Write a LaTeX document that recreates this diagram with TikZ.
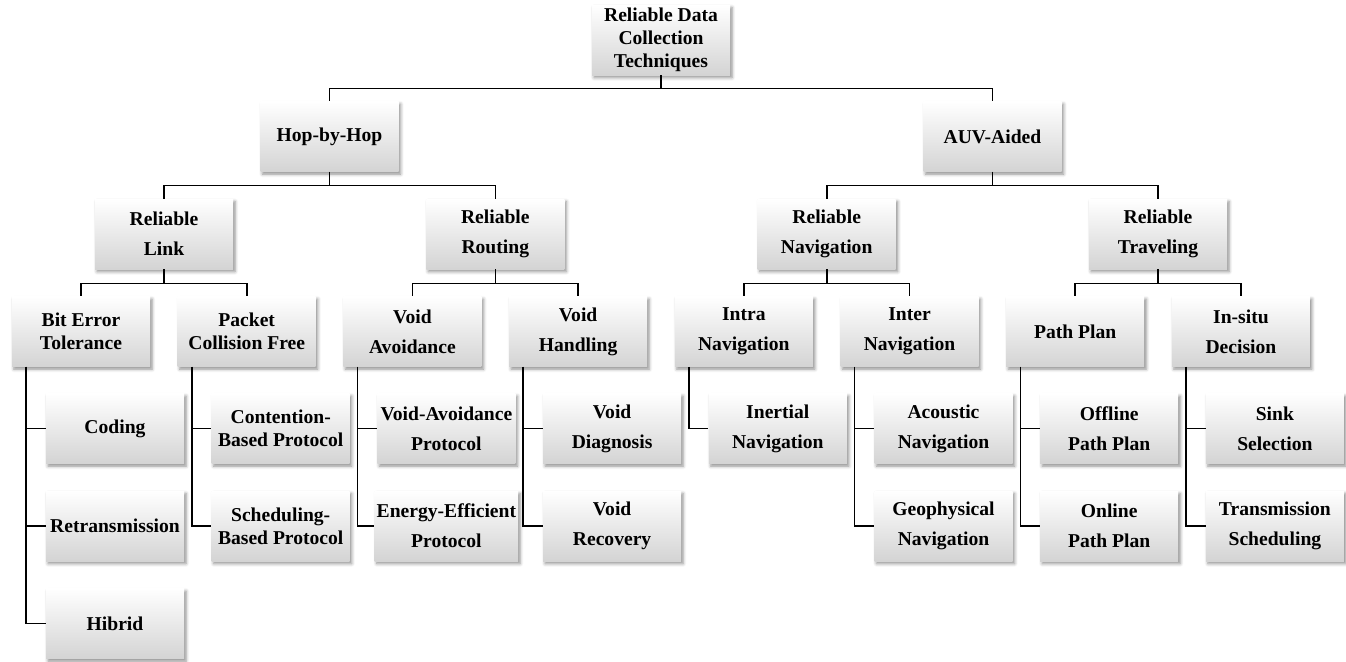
\documentclass[tikz,border=0pt]{standalone}
\usepackage{fontspec}
\setmainfont{Liberation Serif}
\usetikzlibrary{shadows.blur,calc}

\tikzset{
  box/.style={rectangle, top color=white, middle color=white, bottom color=black!17,
    blur shadow={shadow xshift=1pt, shadow yshift=-1.3pt, shadow blur radius=1.6pt, shadow opacity=45},
    minimum width=69pt, minimum height=35pt, inner sep=1pt, align=center,
    font=\fontsize{9.8}{15}\selectfont\bfseries},
  snug/.style={font=\fontsize{9.8}{11.5}\selectfont\bfseries},
  link/.style={line width=0.8pt}
}

\begin{document}
\begin{tikzpicture}[x=0.5pt,y=-0.5pt]
\useasboundingbox (0,0) rectangle (1346,661);

%root and first split
\node[box,snug] (root) at (661,40) {Reliable Data\\Collection\\Techniques};
\node[box] (hop) at (329.5,136.5) {Hop-by-Hop};
\node[box] (auv) at (992.5,136.5) {AUV-Aided};

%second level
\node[box] (rlink) at (164,234) {Reliable\\Link};
\node[box] (rrout) at (495.3,234) {Reliable\\Routing};
\node[box] (rnav) at (826.7,234) {Reliable\\Navigation};
\node[box] (rtrav) at (1158,234) {Reliable\\Traveling};

%third level
\node[box,snug] (bet) at (81,331.5) {Bit Error\\Tolerance};
\node[box,snug] (pcf) at (246.7,331.5) {Packet\\Collision Free};
\node[box] (vav) at (412.4,331.5) {Void\\Avoidance};
\node[box] (vha) at (578.1,331.5) {Void\\Handling};
\node[box] (intra) at (743.8,331.5) {Intra\\Navigation};
\node[box] (inter) at (909.5,331.5) {Inter\\Navigation};
\node[box] (pplan) at (1075.2,331.5) {Path Plan};
\node[box] (insitu) at (1240.9,331.5) {In-situ\\Decision};

%leaves
\node[box] (coding) at (115,428.5) {Coding};
\node[box] (retrans) at (115,526) {Retransmission};
\node[box] (hibrid) at (115,623.5) {Hibrid};
\node[box,snug] (contb) at (280.7,428.5) {Contention-\\Based Protocol};
\node[box,snug] (schedb) at (280.7,526) {Scheduling-\\Based Protocol};
\node[box] (vaprot) at (446.4,428.5) {Void-Avoidance\\Protocol};
\node[box] (eeprot) at (446.4,526) {Energy-Efficient\\Protocol};
\node[box] (vdiag) at (612.1,428.5) {Void\\Diagnosis};
\node[box] (vrec) at (612.1,526) {Void\\Recovery};
\node[box] (inert) at (777.8,428.5) {Inertial\\Navigation};
\node[box] (acou) at (943.5,428.5) {Acoustic\\Navigation};
\node[box] (geo) at (943.5,526) {Geophysical\\Navigation};
\node[box] (offpp) at (1109.2,428.5) {Offline\\Path Plan};
\node[box] (onpp) at (1109.2,526) {Online\\Path Plan};
\node[box] (sink) at (1274.9,428.5) {Sink\\Selection};
\node[box] (txsch) at (1274.9,526) {Transmission\\Scheduling};

%tree connectors
\draw[link] (root.south) -- ++(0,13) -| (hop.north);
\draw[link] (root.south) -- ++(0,13) -| (auv.north);
\draw[link] (hop.south) -- ++(0,13.5) -| (rlink.north);
\draw[link] (hop.south) -- ++(0,13.5) -| (rrout.north);
\draw[link] (auv.south) -- ++(0,13.5) -| (rnav.north);
\draw[link] (auv.south) -- ++(0,13.5) -| (rtrav.north);
\draw[link] (rlink.south) -- ++(0,14) -| (bet.north);
\draw[link] (rlink.south) -- ++(0,14) -| (pcf.north);
\draw[link] (rrout.south) -- ++(0,14) -| (vav.north);
\draw[link] (rrout.south) -- ++(0,14) -| (vha.north);
\draw[link] (rnav.south) -- ++(0,14) -| (intra.north);
\draw[link] (rnav.south) -- ++(0,14) -| (inter.north);
\draw[link] (rtrav.south) -- ++(0,14) -| (pplan.north);
\draw[link] (rtrav.south) -- ++(0,14) -| (insitu.north);

%side trunks to the leaves
\draw[link] ($(bet.south west)+(14.5,0)$) |- (coding.west);
\draw[link] ($(bet.south west)+(14.5,0)$) |- (retrans.west);
\draw[link] ($(bet.south west)+(14.5,0)$) |- (hibrid.west);
\draw[link] ($(pcf.south west)+(14.5,0)$) |- (contb.west);
\draw[link] ($(pcf.south west)+(14.5,0)$) |- (schedb.west);
\draw[link] ($(vav.south west)+(14.5,0)$) |- (vaprot.west);
\draw[link] ($(vav.south west)+(14.5,0)$) |- (eeprot.west);
\draw[link] ($(vha.south west)+(14.5,0)$) |- (vdiag.west);
\draw[link] ($(vha.south west)+(14.5,0)$) |- (vrec.west);
\draw[link] ($(intra.south west)+(14.5,0)$) |- (inert.west);
\draw[link] ($(inter.south west)+(14.5,0)$) |- (acou.west);
\draw[link] ($(inter.south west)+(14.5,0)$) |- (geo.west);
\draw[link] ($(pplan.south west)+(14.5,0)$) |- (offpp.west);
\draw[link] ($(pplan.south west)+(14.5,0)$) |- (onpp.west);
\draw[link] ($(insitu.south west)+(14.5,0)$) |- (sink.west);
\draw[link] ($(insitu.south west)+(14.5,0)$) |- (txsch.west);
\end{tikzpicture}
\end{document}
